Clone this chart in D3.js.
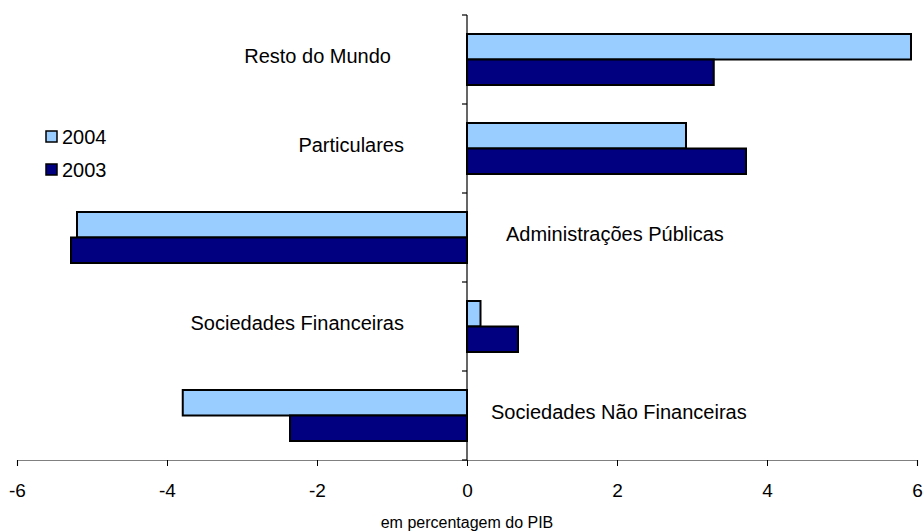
<!DOCTYPE html>
<html><head><meta charset="utf-8">
<script src="https://cdn.jsdelivr.net/npm/d3@7"></script>
<style>body{margin:0;background:#fff}text{font-family:Arial,"Liberation Sans",sans-serif;fill:#000}</style>
</head><body><svg id="c" width="923" height="531"></svg>
<script>
const categories = ["Resto do Mundo","Particulares","Administrações Públicas","Sociedades Financeiras","Sociedades Não Financeiras"];
const series = ["2004","2003"];
const values2004 = [5.92, 2.92, -5.20, 0.18, -3.79];
const values2003 = [3.29, 3.72, -5.28, 0.68, -2.36];
const xTicks = [-6,-4,-2,0,2,4,6];
const axisTitle = "em percentagem do PIB";
const colors = {"2004":"#99CCFF","2003":"#000080"};
// label layout: side and pixel anchor (layout only)
const labelSide = ["left","left","right","left","right"];
const labelAnchorX = [391, 404, 506, 404, 491];

const svg = d3.select("#c");
const x = d3.scaleLinear().domain([-6,6]).range([17,917]);
const y = d3.scaleBand().domain(categories).range([15,460]).paddingInner(0.427).paddingOuter(0.2135);
const ys = d3.scaleBand().domain(series).range([0,y.bandwidth()]);
const vals = {"2004":values2004,"2003":values2003};

const g = svg.append("g");
categories.forEach((c,i)=>{
  series.forEach(s=>{
    const v = vals[s][i];
    g.append("rect")
      .attr("x", x(Math.min(0,v)))
      .attr("y", y(c)+ys(s))
      .attr("width", Math.abs(x(v)-x(0)))
      .attr("height", ys.bandwidth())
      .attr("fill", colors[s]).attr("stroke","#000").attr("stroke-width",2);
  });
});

// x axis
const xa = svg.append("g").attr("transform","translate(0,460)")
  .call(d3.axisBottom(x).tickValues(xTicks).tickSize(6).tickPadding(18).tickFormat(d=>String(d)));
xa.select(".domain").attr("stroke","#808080").attr("stroke-width",1.2);
xa.selectAll(".tick line").attr("stroke","#000");
xa.selectAll(".tick text").style("font-size","19px").attr("font-family",null).attr("fill","#000");

// y axis at zero
const bounds = categories.map(c=>y(c)-y.step()*y.paddingInner()/2);
bounds.push(460);
svg.append("line").attr("x1",x(0)).attr("x2",x(0)).attr("y1",15).attr("y2",460).attr("stroke","#000").attr("stroke-width",1.2);
bounds.forEach(b=>svg.append("line").attr("x1",x(0)-5).attr("x2",x(0)).attr("y1",b).attr("y2",b).attr("stroke","#000").attr("stroke-width",1.2));

// category labels
categories.forEach((c,i)=>{
  svg.append("text").attr("x",labelAnchorX[i]).attr("y",y(c)+y.bandwidth()/2+3)
    .attr("text-anchor", labelSide[i]==="left"?"end":"start")
    .style("font-size","20px").text(c);
});

// axis title
svg.append("text").attr("x",x(0)).attr("y",528).attr("text-anchor","middle").style("font-size","16px").text(axisTitle);

// legend
series.forEach((s,i)=>{
  const ly = 131 + i*33;
  svg.append("rect").attr("x",46).attr("y",ly).attr("width",11).attr("height",11)
    .attr("fill",colors[s]).attr("stroke","#000").attr("stroke-width",1.5);
  svg.append("text").attr("x",62).attr("y",ly+13).style("font-size","20px").text(s);
});
</script></body></html>
